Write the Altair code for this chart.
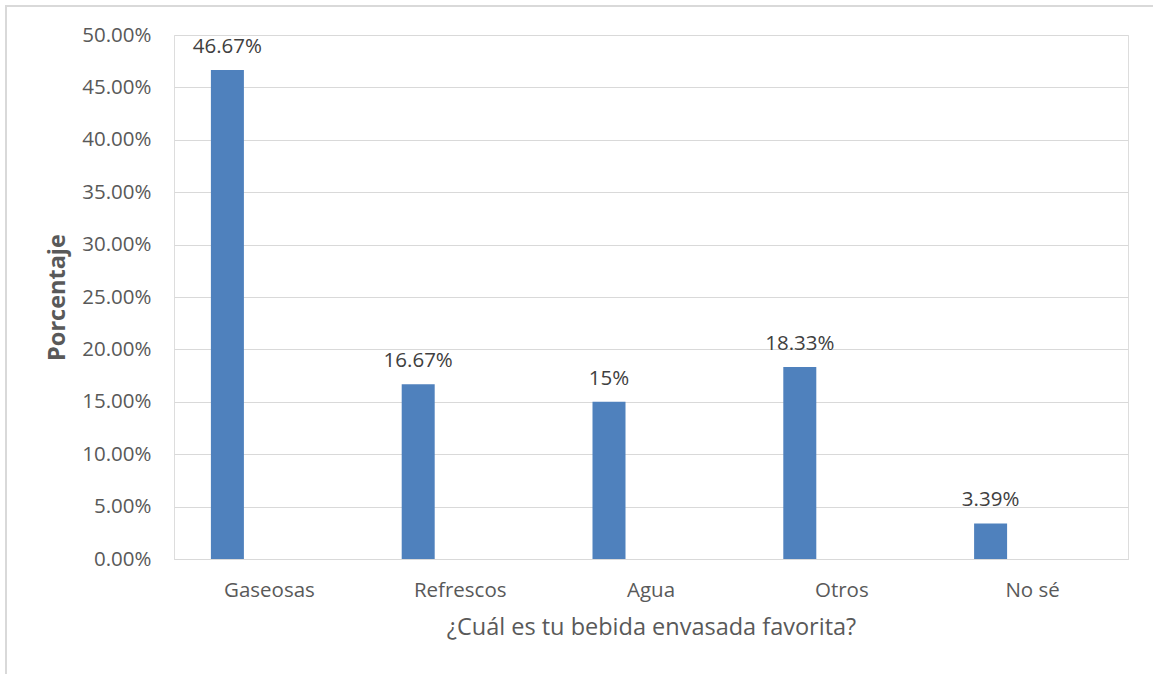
import altair as alt
import pandas as pd

# Survey results: favourite bottled drink
categories = ["Gaseosas", "Refrescos", "Agua", "Otros", "No sé"]
percentages = [46.67, 16.67, 15.0, 18.33, 3.39]
value_labels = ["46.67%", "16.67%", "15%", "18.33%", "3.39%"]

df = pd.DataFrame({
    "bebida": categories,
    "pct": [p / 100 for p in percentages],
    "etiqueta": value_labels,
})

FONT = "Open Sans"
GREY = "#595959"
GRID = "#d9d9d9"
BAR = "#4f81bd"

x_enc = alt.X(
    "bebida:N",
    sort=categories,
    scale=alt.Scale(paddingInner=0, paddingOuter=0),
    axis=alt.Axis(
        title="¿Cuál es tu bebida envasada favorita?",
        labelAngle=0,
        labelFont=FONT,
        labelFontSize=20.5,
        labelColor=GREY,
        labelPadding=21,
        ticks=False,
        domain=True,
        domainColor=GRID,
        titleFont=FONT,
        titleFontSize=23.5,
        titleFontWeight="normal",
        titleColor=GREY,
        titlePadding=15,
    ),
)

y_enc = alt.Y(
    "pct:Q",
    scale=alt.Scale(domain=[0, 0.5], nice=False),
    axis=alt.Axis(
        title="Porcentaje",
        format=".2%",
        values=[i * 0.05 for i in range(11)],
        labelFont=FONT,
        labelFontSize=20.5,
        labelColor=GREY,
        labelPadding=23,
        ticks=False,
        domain=False,
        grid=True,
        gridColor=GRID,
        gridWidth=1,
        titleFont=FONT,
        titleFontSize=23.5,
        titleFontWeight="bold",
        titleColor=GREY,
        titlePadding=12,
    ),
)

bars = alt.Chart(df).mark_bar(width=33, xOffset=-42, color=BAR).encode(
    x=x_enc, y=y_enc
)

labels = alt.Chart(df).mark_text(
    xOffset=-42, dy=-13, baseline="bottom", font=FONT, fontSize=20.5, color="#404040"
).encode(
    x=alt.X("bebida:N", sort=categories),
    y=alt.Y("pct:Q"),
    text="etiqueta:N",
)

# Outer chart frame (left and top edges)
frame_left = alt.Chart(df).mark_rule(color=GRID, strokeWidth=2).encode(
    x=alt.value(-168), y=alt.value(-30), y2=alt.value(640)
)
frame_top = alt.Chart(df).mark_rule(color=GRID, strokeWidth=2).encode(
    x=alt.value(-168), x2=alt.value(1000), y=alt.value(-29)
)

chart = (
    alt.layer(bars, labels, frame_left, frame_top)
    .properties(
        width=954,
        height=524,
        autosize=alt.AutoSizeParams(type="none"),
        padding={"left": 174, "top": 35, "right": 25, "bottom": 115},
    )
    .configure_view(stroke=None)
    .configure(background="white")
)

chart.save("out.html", embed_options={"renderer": "svg", "actions": False})
